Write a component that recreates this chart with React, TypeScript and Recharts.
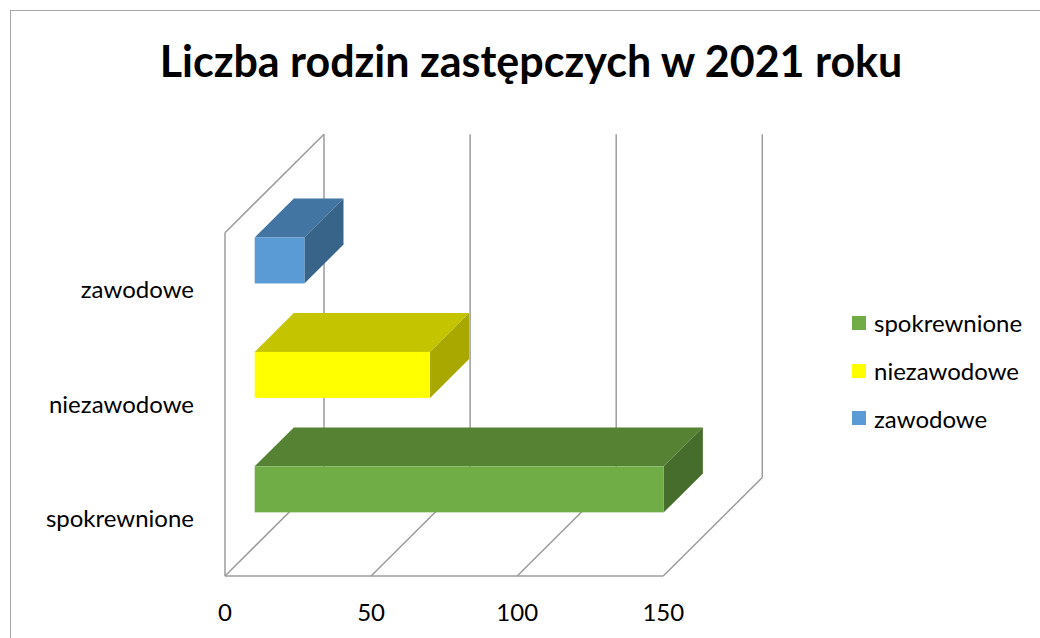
import React from 'react';
import { BarChart, Bar, XAxis, YAxis, CartesianGrid, Legend } from 'recharts';

// Categories (top to bottom on the chart) and their values
const categories = ['zawodowe', 'niezawodowe', 'spokrewnione'];
const values = [17, 60, 140];
const frontColors = ['#5B9BD5', '#FFFF00', '#70AD47'];
const topColors = ['#4375A3', '#C4C400', '#568234'];
const sideColors = ['#386489', '#A8A800', '#466D2B'];
const xTicks = [0, 50, 100, 150];
const legendOrder = ['spokrewnione', 'niezawodowe', 'zawodowe'];

const TITLE = 'Liczba rodzin zastępczych w 2021 roku';
const FONT = 'Lato, "Open Sans", sans-serif';
const GRID = '#9C9C9C';

// 3D projection of the depth axis
const DEPTH_X = 99;
const DEPTH_Y = 98.5;
const BAR_POS = 0.3; // where the bar's front face sits in depth
const BAR_DEPTH = 0.395; // how deep the bar is

const data = categories.map((name, i) => ({
  name,
  value: values[i],
  front: frontColors[i],
  top: topColors[i],
  side: sideColors[i],
}));

// bar drawn as a box: top face, right face, front face
const Box3D = (props: any) => {
  const { x, y, width, height } = props;
  const p = props.payload || props;
  const fx = x + DEPTH_X * BAR_POS;
  const fy = y - DEPTH_Y * BAR_POS;
  const ex = DEPTH_X * BAR_DEPTH;
  const ey = DEPTH_Y * BAR_DEPTH;
  return (
    <g>
      <polygon
        points={`${fx},${fy} ${fx + ex},${fy - ey} ${fx + width + ex},${fy - ey} ${fx + width},${fy}`}
        fill={p.top}
      />
      <polygon
        points={`${fx + width},${fy} ${fx + width + ex},${fy - ey} ${fx + width + ex},${fy + height - ey} ${fx + width},${fy + height}`}
        fill={p.side}
      />
      <rect x={fx} y={fy} width={width} height={height} fill={p.front} />
    </g>
  );
};

// floor diagonal + back wall gridline for one tick (left wall added at the first one)
const WallLine = (props: any) => {
  const { x1, y1, y2, index } = props;
  const top = Math.min(y1, y2);
  const bottom = Math.max(y1, y2);
  return (
    <g key={`wall-${index}`} stroke={GRID} strokeWidth={1.5} fill="none">
      <line x1={x1} y1={bottom} x2={x1 + DEPTH_X} y2={bottom - DEPTH_Y} />
      <line x1={x1 + DEPTH_X} y1={bottom - DEPTH_Y} x2={x1 + DEPTH_X} y2={top - DEPTH_Y} />
      {index === 0 && (
        <>
          <line x1={x1} y1={top} x2={x1} y2={bottom} />
          <line x1={x1} y1={top} x2={x1 + DEPTH_X} y2={top - DEPTH_Y} />
        </>
      )}
    </g>
  );
};

const LegendBox = () => (
  <div style={{ fontFamily: FONT, fontSize: 24, color: '#000' }}>
    {legendOrder.map((name) => {
      const i = categories.indexOf(name);
      return (
        <div key={name} style={{ display: 'flex', alignItems: 'center', height: 47.7 }}>
          <span style={{ width: 14, height: 14, background: frontColors[i], marginRight: 8 }} />
          <span>{name}</span>
        </div>
      );
    })}
  </div>
);

export default function App() {
  return (
    <div style={{ position: 'absolute', left: 0, top: 0, width: 1040, height: 638, background: '#fff', overflow: 'hidden' }}>
      <div
        style={{
          position: 'absolute',
          left: 10,
          top: 10,
          width: 1060,
          height: 660,
          border: '1px solid #A6A6A6',
        }}
      />
      <svg width={1040} height={100} style={{ position: 'absolute', left: 0, top: 0 }}>
        <text x={531} y={77} textAnchor="middle" fontFamily={FONT} fontWeight="bold" fontSize={43} fill="#000">
          {TITLE}
        </text>
      </svg>
      <BarChart
        width={1040}
        height={638}
        data={data}
        layout="vertical"
        barCategoryGap="30%"
        margin={{ top: 232.7, right: 376.7, bottom: 22, left: 0 }}
      >
        <CartesianGrid horizontal={false} vertical={WallLine} />
        <XAxis
          type="number"
          domain={[0, 150]}
          ticks={xTicks}
          height={40}
          axisLine={{ stroke: GRID, strokeWidth: 1.5 }}
          tickLine={false}
          tickSize={0}
          tickMargin={28}
          tick={{ fill: '#000', fontSize: 24, fontFamily: FONT }}
        />
        <YAxis
          type="category"
          dataKey="name"
          width={225}
          axisLine={false}
          tickLine={false}
          tickSize={0}
          tickMargin={31}
          tick={{ fill: '#000', fontSize: 24, fontFamily: FONT }}
        />
        <Legend
          layout="vertical"
          align="center"
          verticalAlign="middle"
          content={LegendBox}
          wrapperStyle={{ left: 852, top: 299, width: 'auto', height: 'auto' }}
        />
        <Bar dataKey="value" shape={Box3D} isAnimationActive={false} />
      </BarChart>
    </div>
  );
}
